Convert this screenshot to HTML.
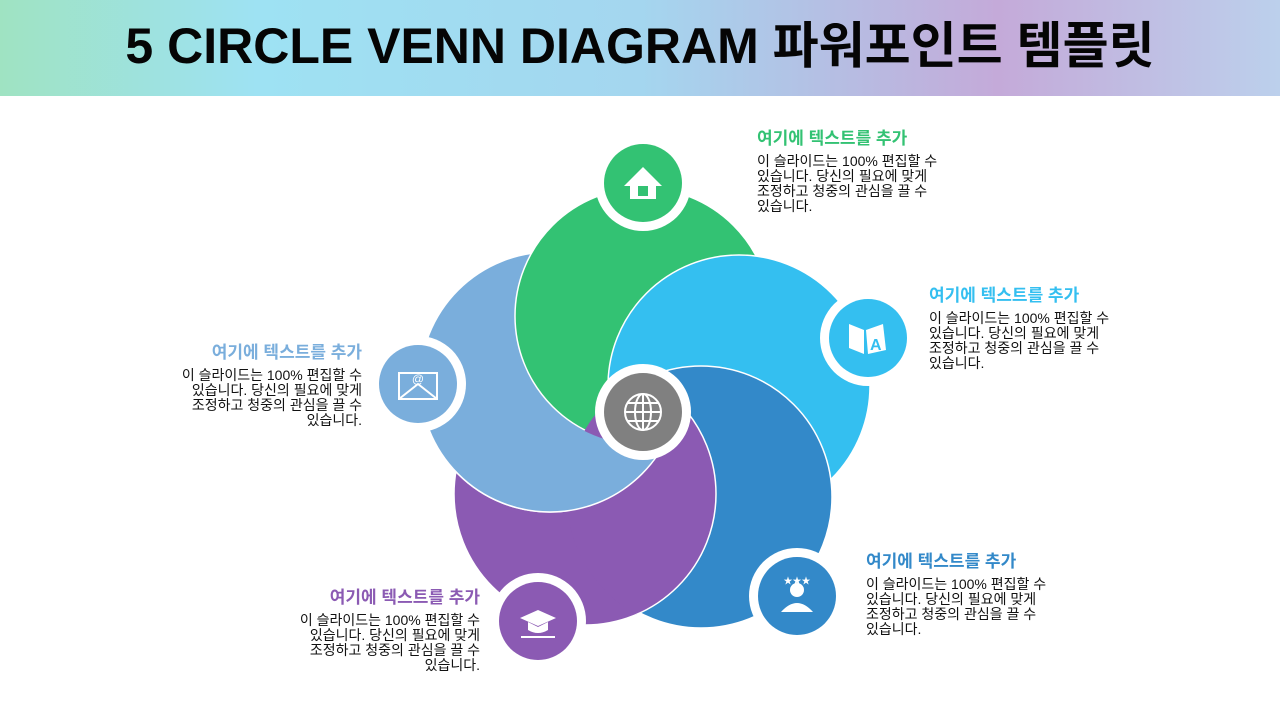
<!DOCTYPE html>
<html><head><meta charset="utf-8"><style>
*{margin:0;padding:0;box-sizing:border-box}
body{width:1280px;height:720px;background:#fff;position:relative;overflow:hidden;font-family:"Liberation Sans","Noto Sans CJK KR",sans-serif}
.hdr{position:absolute;left:0;top:0;width:1280px;height:96px;background:linear-gradient(90deg,#9fe3c2 0%,#9ee2f3 20%,#a4d6ef 50%,#c4aad9 78%,#bcd0ec 100%)}
.hdr h1{position:absolute;left:0;width:1280px;top:16px;text-align:center;font-size:50px;font-weight:bold;color:#050505;line-height:60px;white-space:nowrap}
.blk{position:absolute;width:240px}
.blk .t{font-size:17px;font-weight:bold;line-height:22px;margin-bottom:4px}
.blk .b{font-size:14px;line-height:15px;color:#111;white-space:nowrap}
.r{text-align:right}
</style></head><body>
<div class="hdr"><h1>5 CIRCLE VENN DIAGRAM 파워포인트 템플릿</h1></div>
<svg width="1280" height="720" style="position:absolute;left:0;top:0">
<defs>
<clipPath id="db"><circle cx="701" cy="497" r="134"/></clipPath>
<clipPath id="hp"><rect x="0" y="412" width="1280" height="400"/></clipPath>
<mask id="lm" maskUnits="userSpaceOnUse" x="0" y="0" width="1280" height="720">
<rect x="0" y="405" width="1280" height="400" fill="#fff"/>
<circle cx="643" cy="316" r="129" fill="#000"/>
</mask>
</defs>
<g stroke="#fff" stroke-width="1.5">
<circle cx="585" cy="494" r="131" fill="#8b5ab3"/>
<circle cx="550" cy="382" r="130" fill="#7aaedc"/>
<circle cx="643" cy="316" r="128" fill="#33c273"/>
<circle cx="739" cy="386" r="131" fill="#34bff0"/>
<circle cx="701" cy="497" r="131" fill="#3389c9"/>
<g clip-path="url(#hp)"><g clip-path="url(#db)"><circle cx="585" cy="494" r="131" fill="#8b5ab3"/></g></g>
<g mask="url(#lm)"><circle cx="550" cy="382" r="130" fill="#7aaedc"/></g>
</g>
<g fill="#fff">
<circle cx="643" cy="183" r="48"/><circle cx="868" cy="338" r="48"/><circle cx="797" cy="596" r="48"/><circle cx="538" cy="621" r="48"/><circle cx="418" cy="384" r="48"/><circle cx="643" cy="412" r="48"/>
</g>
<circle cx="643" cy="183" r="39" fill="#33c273"/>
<circle cx="868" cy="338" r="39" fill="#34bff0"/>
<circle cx="797" cy="596" r="39" fill="#3389c9"/>
<circle cx="538" cy="621" r="39" fill="#8b5ab3"/>
<circle cx="418" cy="384" r="39" fill="#7aaedc"/>
<circle cx="643" cy="412" r="39" fill="#808080"/>
<g fill="#fff" stroke="none">
<polygon points="624,186 643,167 662,186 656,186 656,199 630,199 630,186"/>
<rect x="638" y="186" width="10" height="10" fill="#33c273"/>
<polygon points="849,324 864,330 864,354 849,348"/><polygon points="866,330 883,324 886,350 868,354"/>
<text x="870" y="350" font-size="16" font-weight="bold" fill="#34bff0" font-family="Liberation Sans">A</text>
<circle cx="797" cy="590" r="7"/><path d="M781,612 q16,-18 32,0 z"/>
<text x="797" y="584" font-size="9" text-anchor="middle">★★★</text>
<polygon points="520,618 538,610 556,618 538,626"/><path d="M528,622 v8 q10,6 20,0 v-8 l-10,5 z"/>
<rect x="521" y="636" width="34" height="2"/>
<rect x="399" y="373" width="38" height="26" fill="none" stroke="#fff" stroke-width="2"/>
<polyline points="399,399 418,384 437,399" fill="none" stroke="#fff" stroke-width="2"/>
<text x="418" y="383" font-size="12" text-anchor="middle">@</text>
</g>
<g fill="none" stroke="#fff" stroke-width="2">
<circle cx="643" cy="412" r="18"/><ellipse cx="643" cy="412" rx="8" ry="18"/><line x1="625" y1="412" x2="661" y2="412"/><line x1="643" y1="394" x2="643" y2="430"/><line x1="628" y1="403" x2="658" y2="403"/><line x1="628" y1="421" x2="658" y2="421"/>
</g>
</svg>
<div class="blk" style="left:757px;top:128px"><div class="t" style="color:#33c273">여기에 텍스트를 추가</div><div class="b">이 슬라이드는 100% 편집할 수<br>있습니다. 당신의 필요에 맞게<br>조정하고 청중의 관심을 끌 수<br>있습니다.</div></div>
<div class="blk" style="left:929px;top:285px"><div class="t" style="color:#34bff0">여기에 텍스트를 추가</div><div class="b">이 슬라이드는 100% 편집할 수<br>있습니다. 당신의 필요에 맞게<br>조정하고 청중의 관심을 끌 수<br>있습니다.</div></div>
<div class="blk" style="left:866px;top:551px"><div class="t" style="color:#3389c9">여기에 텍스트를 추가</div><div class="b">이 슬라이드는 100% 편집할 수<br>있습니다. 당신의 필요에 맞게<br>조정하고 청중의 관심을 끌 수<br>있습니다.</div></div>
<div class="blk r" style="left:122px;top:342px"><div class="t" style="color:#7aaedc">여기에 텍스트를 추가</div><div class="b">이 슬라이드는 100% 편집할 수<br>있습니다. 당신의 필요에 맞게<br>조정하고 청중의 관심을 끌 수<br>있습니다.</div></div>
<div class="blk r" style="left:240px;top:587px"><div class="t" style="color:#8b5ab3">여기에 텍스트를 추가</div><div class="b">이 슬라이드는 100% 편집할 수<br>있습니다. 당신의 필요에 맞게<br>조정하고 청중의 관심을 끌 수<br>있습니다.</div></div>
</body></html>
